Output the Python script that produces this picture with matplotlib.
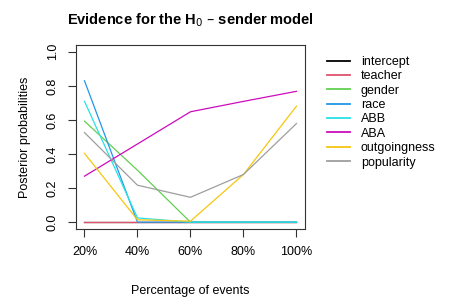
import matplotlib
matplotlib.use("Agg")
import matplotlib.pyplot as plt

plt.rcParams['font.family'] = ['Liberation Sans', 'DejaVu Sans']

# percentage of events used
pct = [20, 40, 60, 80, 100]
xlabels = ['20%', '40%', '60%', '80%', '100%']

intercept = [0.0, 0.0, 0.0, 0.0, 0.0]
teacher = [0.0, 0.0, 0.0, 0.0, 0.0]
gender = [0.593, 0.305, 0.0, 0.0, 0.0]
race = [0.83, 0.0, 0.0, 0.0, 0.0]
abb = [0.709, 0.025, 0.0, 0.0, 0.0]
aba = [0.27, 0.459, 0.648, 0.709, 0.768]
outgoingness = [0.404, 0.014, 0.006, 0.28, 0.681]
popularity = [0.526, 0.217, 0.146, 0.28, 0.579]

names = ['intercept', 'teacher', 'gender', 'race', 'ABB', 'ABA',
         'outgoingness', 'popularity']
series = [intercept, teacher, gender, race, abb, aba, outgoingness, popularity]
# R 4.x default palette
colors = ['#000000', '#DF536B', '#61D04F', '#2297E6', '#28E2E5', '#CD0BBC',
          '#F5C710', '#9E9E9E']

fig = plt.figure(figsize=(4.57, 3.05), dpi=100)
ax = fig.add_axes([0.1663, 0.2492, 0.501, 0.6033])

for name, vals, col in zip(names, series, colors):
    ax.plot(pct, vals, color=col, lw=0.9, label=name)

ax.set_xlim(16.8, 103.2)
ax.set_ylim(-0.04, 1.04)
ax.set_xticks(pct)
ax.set_xticklabels(xlabels, fontsize=9)
ax.set_yticks([0.0, 0.2, 0.4, 0.6, 0.8, 1.0])
ax.set_yticklabels(['0.0', '0.2', '0.4', '0.6', '0.8', '1.0'], fontsize=9,
                   rotation=90, va='center')
ax.tick_params(axis='both', direction='out', length=5.5, width=0.8,
               color='#333333')
ax.tick_params(axis='x', pad=7)
ax.tick_params(axis='y', pad=7)
for sp in ax.spines.values():
    sp.set_color('#333333')
    sp.set_linewidth(0.8)

ax.set_xlabel('Percentage of events', fontsize=9, labelpad=19)
ax.set_ylabel('Posterior probabilities', fontsize=9, labelpad=11)
ax.set_title('Evidence for the H$_0$ \u2013 sender model', fontsize=10.5,
             fontweight='bold', pad=15)

leg_lines = [plt.Line2D([], [], color=c, lw=1.3) for c in colors]
fig.legend(leg_lines, names, loc='upper left',
           bbox_to_anchor=(327 / 457, 1 - 56 / 305), frameon=False,
           fontsize=9, handlelength=1.85, handletextpad=0.85,
           labelspacing=0.19, borderpad=0, borderaxespad=0)

fig.savefig('out.png', dpi=100)
